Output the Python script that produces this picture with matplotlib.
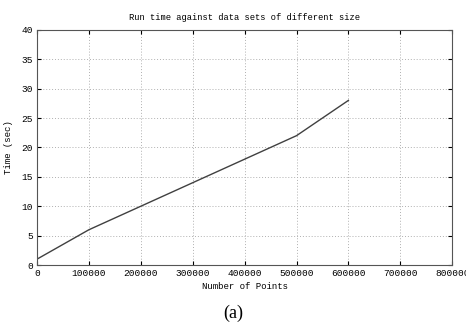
import numpy as np
import matplotlib.pyplot as plt

# data
points = [0, 100000, 200000, 300000, 400000, 500000, 600000]
run_time = [1, 6, 10, 14, 18, 22, 28]
xticks = [0, 100000, 200000, 300000, 400000, 500000, 600000, 700000, 800000]
yticks = [0, 5, 10, 15, 20, 25, 30, 35, 40]

mono = 'Liberation Mono'

fig = plt.figure(figsize=(4.66, 3.28), dpi=100)
ax = fig.add_axes([0.0794, 0.192, 0.891, 0.717])
ax.plot(points, run_time, color='#404040', lw=1.0)

ax.set_xlim(0, 800000)
ax.set_ylim(0, 40)
ax.set_xticks(xticks)
ax.set_xticklabels([str(t) for t in xticks], fontsize=6.8, family=mono)
ax.set_yticks(yticks)
ax.set_yticklabels([str(t) for t in yticks], fontsize=6.8, family=mono)
ax.tick_params(direction='in', length=3, width=0.8, top=True, right=True, pad=3)
ax.grid(True, linestyle=(0, (1, 2)), color='#b0b0b0', lw=0.7)
for s in ax.spines.values():
    s.set_color('#555555')
    s.set_linewidth(0.8)

ax.set_title('Run time against data sets of different size', fontsize=6.3, family=mono, pad=7)
ax.set_xlabel('Number of Points', fontsize=6.5, family=mono, labelpad=3)
ax.set_ylabel('Time (sec)', fontsize=6.5, family=mono, labelpad=6)

fig.text(0.5, 0.03, '(a)', ha='center', fontsize=13, family='Liberation Serif')

fig.savefig('out.png', dpi=100)
